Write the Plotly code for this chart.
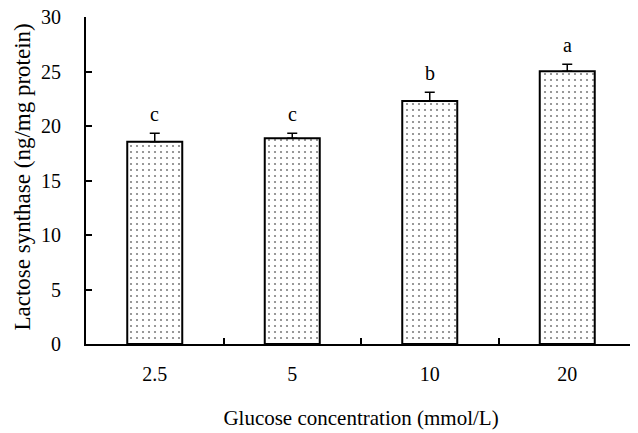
import plotly.graph_objects as go

categories = ["2.5", "5", "10", "20"]
values = [18.56, 18.87, 22.29, 25.02]
errors = [0.77, 0.46, 0.80, 0.64]
letters = ["c", "c", "b", "a"]
y_ticks = [0, 5, 10, 15, 20, 25, 30]

FONT = "Liberation Serif"

fig = go.Figure()
fig.add_trace(go.Bar(
    x=categories, y=values,
    marker=dict(color="white", line=dict(color="black", width=2),
                pattern=dict(shape=".", size=6, solidity=0.1, fgcolor="black", bgcolor="white")),
    error_y=dict(type="data", array=errors, arrayminus=[0] * len(errors), symmetric=False,
                 color="black", thickness=1.5, width=5),
    showlegend=False,
))

for i, (v, e, t) in enumerate(zip(values, errors, letters)):
    fig.add_annotation(x=i, y=v + e, text=t, showarrow=False, yanchor="middle", yshift=19,
                       font=dict(family=FONT, size=20, color="black"))

fig.add_annotation(xref="paper", yref="paper", x=(14 - 78) / 550, y=(336 - 325) / 327,
                   text="Lactose synthase (ng/mg protein)", textangle=-90, showarrow=False,
                   xanchor="center", yanchor="bottom",
                   font=dict(family=FONT, size=23, color="black"))

fig.update_layout(
    width=630, height=425,
    margin=dict(l=78, r=2, t=9, b=89),
    paper_bgcolor="white", plot_bgcolor="white",
    bargap=0.6,
    font=dict(family=FONT, size=20, color="black"),
    xaxis=dict(type="category", range=[-0.5, 3.5], showline=True, linecolor="black", linewidth=2,
               ticks="inside", ticklen=6, automargin=False,
               tickwidth=1.5, tickcolor="black", tickson="boundaries", showgrid=False,
               ticklabelstandoff=11, tickangle=0,
               title=dict(text="Glucose concentration (mmol/L)", font=dict(family=FONT, size=21), standoff=26)),
    yaxis=dict(showline=True, linecolor="black", linewidth=2, ticks="inside", ticklen=6,
               tickwidth=1.5, tickcolor="black", range=[0, 30], tickmode="array",
               tickvals=y_ticks, ticktext=[str(v) for v in y_ticks], showgrid=False,
               zeroline=False, ticklabelstandoff=19, automargin=False, ticklabeloverflow="allow"),
)

fig.write_html("out.html")
